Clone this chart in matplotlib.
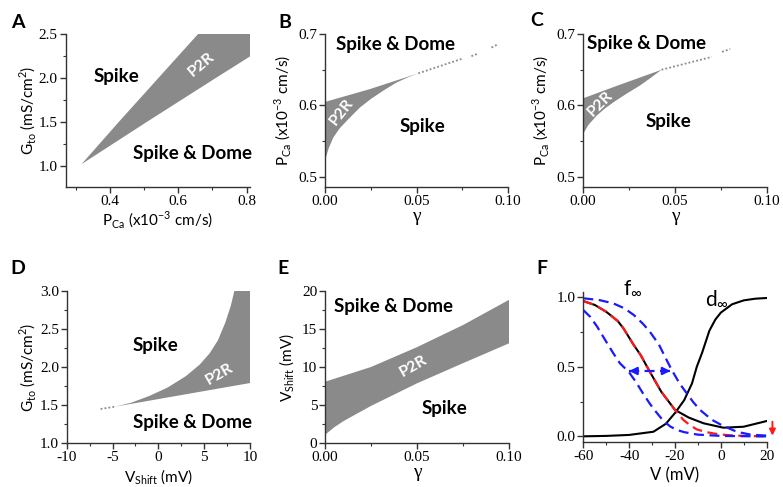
import matplotlib
matplotlib.use("Agg")
import matplotlib.pyplot as plt
from matplotlib.ticker import MultipleLocator, FormatStrFormatter

plt.rcParams['font.family'] = ['Lato', 'DejaVu Sans']
plt.rcParams['mathtext.fontset'] = 'custom'
plt.rcParams['mathtext.rm'] = 'Lato'
plt.rcParams['axes.unicode_minus'] = False

# ---------------- data ----------------
# Panel A : P2R region in (P_Ca, G_to)
A_upper_x = [0.317, 0.426, 0.542, 0.658, 0.81]
A_upper_y = [1.02, 1.5, 2.0, 2.5, 2.5]
A_lower_x = [0.317, 0.508, 0.71, 0.81]
A_lower_y = [1.02, 1.5, 2.0, 2.245]

# Panel B : P2R region in (gamma, P_Ca)
B_upper_x = [0.0, 0.0246, 0.051]
B_upper_y = [0.605, 0.623, 0.645]
B_lower_x = [0.0, 0.002, 0.0045, 0.008, 0.0128, 0.019, 0.025, 0.032, 0.039, 0.045, 0.051]
B_lower_y = [0.523, 0.540, 0.555, 0.568, 0.581, 0.597, 0.609, 0.621, 0.632, 0.639, 0.645]
B_dot_x = [[0.051, 0.0756], [0.080, 0.084], [0.091, 0.094]]
B_dot_y = [[0.645, 0.666], [0.669, 0.673], [0.681, 0.685]]

# Panel C
C_upper_x = [0.0, 0.02, 0.0427]
C_upper_y = [0.610, 0.629, 0.650]
C_lower_x = [0.0, 0.003, 0.0075, 0.012, 0.0174, 0.024, 0.031, 0.037, 0.0427]
C_lower_y = [0.560, 0.573, 0.586, 0.596, 0.606, 0.617, 0.628, 0.639, 0.650]
C_dot_x = [[0.0427, 0.070], [0.0756, 0.080]]
C_dot_y = [[0.650, 0.668], [0.675, 0.679]]

# Panel D : (V_shift, G_to)
D_upper_x = [-4.73, -3.0, -1.0, 1.0, 3.0, 4.5, 5.6, 6.5, 7.3, 7.9, 8.3, 10.0]
D_upper_y = [1.48, 1.53, 1.62, 1.73, 1.88, 2.03, 2.18, 2.35, 2.58, 2.80, 3.0, 3.0]
D_lower_x = [-4.73, 10.0]
D_lower_y = [1.48, 1.79]
D_dot_x = [-6.3, -4.73]
D_dot_y = [1.45, 1.48]

# Panel E : (gamma, V_shift)
E_upper_x = [0.0, 0.025, 0.05, 0.075, 0.1]
E_upper_y = [8.07, 10.0, 12.6, 15.5, 18.8]
E_lower_x = [0.0, 0.005, 0.01, 0.025, 0.05, 0.075, 0.1]
E_lower_y = [1.1, 2.1, 2.9, 4.9, 7.86, 10.5, 13.1]

# Panel F : steady-state curves
f_V = [-60, -55, -50, -45, -42.5, -38, -35, -31, -26, -20, -14, -7.6, 1.1, 9.9, 20]
f_y = [0.973, 0.945, 0.896, 0.83, 0.777, 0.657, 0.585, 0.465, 0.321, 0.19, 0.135, 0.094, 0.062, 0.069, 0.11]
d_V = [-60, -50, -40, -29.4, -24, -19.9, -16, -12.6, -10.5, -8.2, -5, -2.4, 0, 4.9, 10, 15, 20]
d_y = [0.0, 0.003, 0.01, 0.033, 0.09, 0.17, 0.26, 0.38, 0.5, 0.60, 0.76, 0.84, 0.89, 0.95, 0.978, 0.99, 0.995]
red_V = [-60, -55, -50, -45, -42.5, -38, -35, -31, -26, -20, -16.3, -13, -10.5, -7, -3, 2, 7, 13, 20]
red_y = [0.973, 0.945, 0.896, 0.83, 0.777, 0.657, 0.585, 0.465, 0.321, 0.19, 0.117, 0.075, 0.05, 0.033, 0.02, 0.01, 0.005, 0.002, 0.0]
bR_V = [-60, -53, -47, -42, -38, -34, -31, -27, -24, -21.4, -18, -14.9, -12, -9.1, -4, 0.4, 6.9, 13, 20]
bR_y = [0.993, 0.98, 0.957, 0.92, 0.873, 0.81, 0.753, 0.66, 0.56, 0.477, 0.38, 0.31, 0.245, 0.19, 0.12, 0.08, 0.033, 0.012, 0.005]
bL_V = [-60, -57, -54, -50, -47, -44, -40, -37, -34, -31, -28, -25, -22, -19, -16, -10, 0, 10, 20]
bL_y = [0.908, 0.86, 0.79, 0.68, 0.60, 0.525, 0.46, 0.39, 0.31, 0.235, 0.17, 0.11, 0.07, 0.045, 0.03, 0.012, 0.003, 0.001, 0.0]
shift_arrow_x = [-40.0, -22.0]
shift_arrow_y = 0.47
red_arrow_x = 22.5
red_arrow_y = [0.105, 0.005]

GRAY = '#8a8a8a'
BLUE = '#1a1aff'
RED = '#ff1a1a'

W, H = 783, 487
fig = plt.figure(figsize=(W / 100, H / 100), dpi=100)


def add_ax(l, r, t, b):
    return fig.add_axes([l / W, 1 - b / H, (r - l) / W, (b - t) / H])


def style(ax):
    for s in ('top', 'right'):
        ax.spines[s].set_visible(False)
    for s in ('left', 'bottom'):
        ax.spines[s].set_color('#333333')
        ax.spines[s].set_linewidth(1.0)
    ax.tick_params(which='major', direction='out', length=4, width=1, color='#333333',
                   labelsize=11, pad=1.5, labelfontfamily='Liberation Serif')
    ax.tick_params(which='minor', direction='out', length=2.5, width=0.8, color='#333333')


def fill_region(ax, ux, uy, lx, ly):
    px = list(ux) + list(lx[::-1])
    py = list(uy) + list(ly[::-1])
    ax.fill(px, py, color=GRAY, lw=0)


def txt(ax, x, y, s, rot=0, color='black', size=13.5):
    ax.text(x, y, s, ha='center', va='center', rotation=rot, color=color,
            fontsize=size, fontweight='bold')


def letter(x, y, s):
    fig.text(x / W, 1 - y / H, s, ha='center', va='center', fontsize=14, fontweight='bold')


def labels(ax, xl, yl, xpos, ypos, xfont=None):
    if xfont:
        ax.set_xlabel(xl, fontsize=14, fontfamily=xfont, va='center')
    else:
        ax.set_xlabel(xl, fontsize=11, va='center')
    ax.xaxis.set_label_coords(0.5, xpos)
    if yl:
        ax.set_ylabel(yl, fontsize=11, va='center')
        ax.yaxis.set_label_coords(ypos, 0.5)


PCA = r'P$_\mathregular{Ca}$ (x10$^\mathregular{-3}$ cm/s)'
GTO = r'G$_\mathregular{to}$ (mS/cm$^\mathregular{2}$)'
VSH = r'V$_\mathregular{Shift}$ (mV)'

# ---- A ----
ax = add_ax(65.5, 250, 34, 187)
fill_region(ax, A_upper_x, A_upper_y, A_lower_x, A_lower_y)
ax.set_xlim(0.27, 0.81); ax.set_ylim(0.76, 2.5)
ax.xaxis.set_major_locator(MultipleLocator(0.2)); ax.xaxis.set_minor_locator(MultipleLocator(0.1))
ax.yaxis.set_major_locator(MultipleLocator(0.5)); ax.yaxis.set_minor_locator(MultipleLocator(0.25))
ax.xaxis.set_major_formatter(FormatStrFormatter('%.1f'))
ax.yaxis.set_major_formatter(FormatStrFormatter('%.1f'))
style(ax)
labels(ax, PCA, GTO, -0.21, -0.205)
txt(ax, 0.418, 2.02, 'Spike')
txt(ax, 0.642, 1.14, 'Spike & Dome')
txt(ax, 0.668, 2.15, 'P2R', rot=40, color='white', size=11.5)
letter(18, 22, 'A')

# ---- B / C ----
for (l, r, ux, uy, lx, ly, dx, dy, t1, t2, t3, prot, lp, lab) in [
    (325, 508, B_upper_x, B_upper_y, B_lower_x, B_lower_y, B_dot_x, B_dot_y,
     (0.0383, 0.686), (0.0534, 0.570), (0.0091, 0.591), 52, (285, 22), 'B'),
    (583, 767, C_upper_x, C_upper_y, C_lower_x, C_lower_y, C_dot_x, C_dot_y,
     (0.0347, 0.687), (0.0464, 0.577), (0.0093, 0.602), 45, (537, 21), 'C')]:
    ax = add_ax(l, r, 34, 187)
    fill_region(ax, ux, uy, lx, ly)
    for xs, ys in zip(dx, dy):
        ax.plot(xs, ys, color=GRAY, lw=1.3, ls=(0, (1, 1.2)))
    ax.set_xlim(0, 0.1); ax.set_ylim(0.486, 0.7)
    ax.xaxis.set_major_locator(MultipleLocator(0.05)); ax.xaxis.set_minor_locator(MultipleLocator(0.025))
    ax.yaxis.set_major_locator(MultipleLocator(0.1)); ax.yaxis.set_minor_locator(MultipleLocator(0.05))
    ax.xaxis.set_major_formatter(FormatStrFormatter('%.2f'))
    ax.yaxis.set_major_formatter(FormatStrFormatter('%.1f'))
    style(ax)
    labels(ax, 'γ', PCA, -0.19, -0.23, xfont='Liberation Serif')
    txt(ax, *t1, 'Spike & Dome')
    txt(ax, *t2, 'Spike')
    txt(ax, *t3, 'P2R', rot=prot, color='white', size=11.5)
    letter(*lp, lab)

# ---- D ----
ax = add_ax(66.7, 250, 290.7, 443.3)
fill_region(ax, D_upper_x, D_upper_y, D_lower_x, D_lower_y)
ax.plot(D_dot_x, D_dot_y, color=GRAY, lw=1.3, ls=(0, (1, 1.2)))
ax.set_xlim(-10, 10); ax.set_ylim(1.0, 3.0)
ax.xaxis.set_major_locator(MultipleLocator(5)); ax.xaxis.set_minor_locator(MultipleLocator(2.5))
ax.yaxis.set_major_locator(MultipleLocator(0.5)); ax.yaxis.set_minor_locator(MultipleLocator(0.25))
ax.xaxis.set_major_formatter(FormatStrFormatter('%d'))
ax.yaxis.set_major_formatter(FormatStrFormatter('%.1f'))
style(ax)
labels(ax, VSH, GTO, -0.22, -0.215)
txt(ax, -0.37, 2.28, 'Spike')
txt(ax, 3.74, 1.27, 'Spike & Dome')
txt(ax, 6.72, 1.9, 'P2R', rot=30, color='white', size=11.5)
letter(18, 268, 'D')

# ---- E ----
ax = add_ax(325, 509, 290.7, 443.3)
fill_region(ax, E_upper_x, E_upper_y, E_lower_x, E_lower_y)
ax.set_xlim(0, 0.1); ax.set_ylim(0, 20)
ax.xaxis.set_major_locator(MultipleLocator(0.05)); ax.xaxis.set_minor_locator(MultipleLocator(0.025))
ax.yaxis.set_major_locator(MultipleLocator(5)); ax.yaxis.set_minor_locator(MultipleLocator(2.5))
ax.xaxis.set_major_formatter(FormatStrFormatter('%.2f'))
ax.yaxis.set_major_formatter(FormatStrFormatter('%d'))
style(ax)
labels(ax, 'γ', VSH, -0.19, -0.207, xfont='Liberation Serif')
txt(ax, 0.037, 17.9, 'Spike & Dome')
txt(ax, 0.0647, 4.6, 'Spike')
txt(ax, 0.048, 10.1, 'P2R', rot=30, color='white', size=11.5)
letter(283, 268, 'E')

# ---- F ----
ax = add_ax(583.3, 766.7, 292.3, 442.3)
dash = (0, (4.5, 2.5))
ax.plot(f_V, f_y, color='black', lw=1.5)
ax.plot(d_V, d_y, color='black', lw=1.5)
ax.plot(red_V, red_y, color=RED, lw=1.6, ls=dash)
ax.plot(bR_V, bR_y, color=BLUE, lw=1.6, ls=dash)
ax.plot(bL_V, bL_y, color=BLUE, lw=1.6, ls=dash)
ax.plot(shift_arrow_x, [shift_arrow_y] * 2, color=BLUE, lw=1.6, ls=dash)
ax.annotate('', xy=(shift_arrow_x[0], shift_arrow_y), xytext=(shift_arrow_x[0] + 4, shift_arrow_y),
            arrowprops=dict(arrowstyle='-|>', color=BLUE, lw=1.6, mutation_scale=11, shrinkA=0, shrinkB=0))
ax.annotate('', xy=(shift_arrow_x[1], shift_arrow_y), xytext=(shift_arrow_x[1] - 4, shift_arrow_y),
            arrowprops=dict(arrowstyle='-|>', color=BLUE, lw=1.6, mutation_scale=11, shrinkA=0, shrinkB=0))
ax.annotate('', xy=(red_arrow_x, red_arrow_y[1]), xytext=(red_arrow_x, red_arrow_y[0]),
            arrowprops=dict(arrowstyle='-|>', color=RED, lw=1.4, mutation_scale=9, shrinkA=0, shrinkB=0),
            annotation_clip=False)
ax.set_xlim(-60, 20); ax.set_ylim(-0.043, 1.036)
ax.xaxis.set_major_locator(MultipleLocator(20)); ax.xaxis.set_minor_locator(MultipleLocator(10))
ax.yaxis.set_major_locator(MultipleLocator(0.5)); ax.yaxis.set_minor_locator(MultipleLocator(0.25))
ax.xaxis.set_major_formatter(FormatStrFormatter('%d'))
ax.yaxis.set_major_formatter(FormatStrFormatter('%.1f'))
style(ax)
ax.set_xlabel('V (mV)', fontsize=12, va='center')
ax.xaxis.set_label_coords(0.5, -0.22)
ax.text(-38.5, 1.07, r'f$_\mathregular{\infty}$', ha='center', va='center', fontsize=15, clip_on=False)
ax.text(-1.5, 0.99, r'd$_\mathregular{\infty}$', ha='center', va='center', fontsize=15, clip_on=False)
letter(542, 268, 'F')

fig.savefig('out.png', dpi=100)
